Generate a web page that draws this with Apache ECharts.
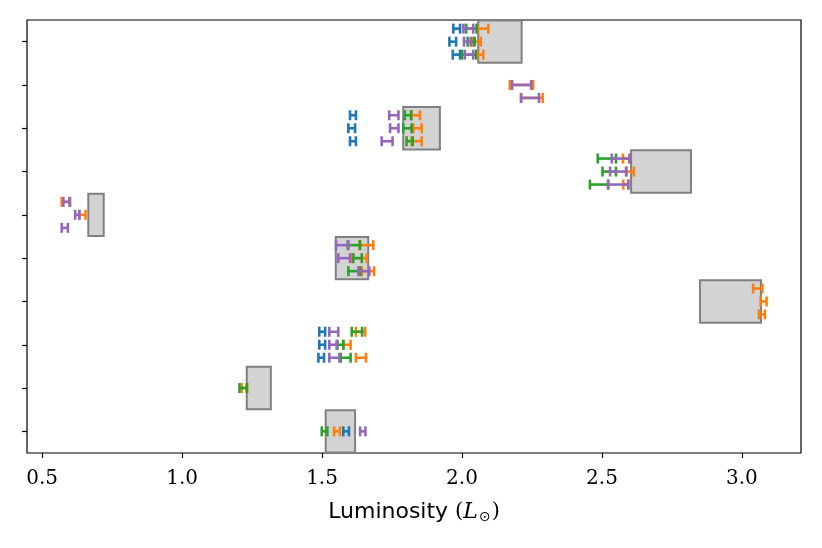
<!DOCTYPE html>
<html>
<head>
<meta charset="utf-8">
<script src="https://cdn.jsdelivr.net/npm/echarts@6/dist/echarts.min.js"></script>
<style>
  html, body { margin: 0; padding: 0; background: #fff; }
  #chart { width: 822px; height: 548px; }
</style>
</head>
<body>
<div id="chart"></div>
<script>
// x ticks
var xTicks = [0.5, 1.0, 1.5, 2.0, 2.5, 3.0];
// one slot per object, bottom to top
var yTicks = [0, 1, 2, 3, 4, 5, 6, 7, 8, 9];

// grey reference boxes: [slot, low, high]
var boxes = [
  [9, 2.058, 2.213],
  [7, 1.790, 1.921],
  [6, 2.604, 2.818],
  [5, 0.665, 0.720],
  [4, 1.549, 1.665],
  [3, 2.850, 3.068],
  [1, 1.231, 1.317],
  [0, 1.513, 1.618]
];

// error bars: [slot, row (0 top, 1 middle, 2 bottom), low, high]
var blueBars = [
  [9, 0, 1.969, 1.993], [9, 1, 1.955, 1.979], [9, 2, 1.967, 1.993],
  [7, 0, 1.600, 1.621], [7, 1, 1.594, 1.618], [7, 2, 1.600, 1.621],
  [2, 0, 1.490, 1.511], [2, 1, 1.490, 1.511], [2, 2, 1.487, 1.507],
  [0, 1, 1.576, 1.596]
];
var orangeBars = [
  [9, 0, 2.055, 2.094], [9, 1, 2.040, 2.067], [9, 2, 2.055, 2.076],
  [8, 1, 2.171, 2.254], [8, 2, 2.211, 2.288],
  [7, 0, 1.820, 1.850], [7, 1, 1.826, 1.856], [7, 2, 1.820, 1.856],
  [6, 0, 2.575, 2.597], [6, 1, 2.588, 2.614], [6, 2, 2.576, 2.594],
  [5, 0, 0.570, 0.600], [5, 1, 0.633, 0.655],
  [4, 0, 1.633, 1.683], [4, 1, 1.608, 1.660], [4, 2, 1.642, 1.686],
  [3, 0, 3.040, 3.073], [3, 1, 3.067, 3.088], [3, 2, 3.061, 3.082],
  [2, 0, 1.621, 1.654], [2, 1, 1.576, 1.602], [2, 2, 1.621, 1.657],
  [1, 1, 1.213, 1.233],
  [0, 1, 1.543, 1.564]
];
var greenBars = [
  [9, 0, 2.015, 2.052], [9, 1, 2.020, 2.045], [9, 2, 2.000, 2.050],
  [7, 0, 1.796, 1.818], [7, 1, 1.790, 1.820], [7, 2, 1.802, 1.824],
  [6, 0, 2.485, 2.550], [6, 1, 2.502, 2.550], [6, 2, 2.457, 2.522],
  [4, 0, 1.592, 1.636], [4, 1, 1.612, 1.642], [4, 2, 1.594, 1.636],
  [2, 0, 1.606, 1.643], [2, 1, 1.555, 1.576], [2, 2, 1.567, 1.602],
  [1, 1, 1.205, 1.231],
  [0, 1, 1.499, 1.519]
];
var purpleBars = [
  [9, 0, 2.005, 2.040], [9, 1, 2.007, 2.031], [9, 2, 2.010, 2.040],
  [8, 1, 2.179, 2.247], [8, 2, 2.211, 2.275],
  [7, 0, 1.740, 1.773], [7, 1, 1.743, 1.773], [7, 2, 1.713, 1.752],
  [6, 0, 2.535, 2.600], [6, 1, 2.529, 2.586], [6, 2, 2.522, 2.594],
  [5, 0, 0.576, 0.598], [5, 1, 0.618, 0.633], [5, 2, 0.570, 0.592],
  [4, 0, 1.550, 1.594], [4, 1, 1.558, 1.600], [4, 2, 1.630, 1.669],
  [2, 0, 1.526, 1.558], [2, 1, 1.526, 1.552], [2, 2, 1.526, 1.562],
  [0, 1, 1.636, 1.655]
];

var ROW_STEP = 0.3;   // vertical spacing of rows inside a slot
var BOX_HALF = 0.49;
var CAP = 5;          // half cap height, px

var chart = echarts.init(document.getElementById('chart'));

function boxItem(params, api) {
  var s = api.value(0);
  var a = api.coord([api.value(1), s + BOX_HALF]);
  var b = api.coord([api.value(2), s - BOX_HALF]);
  return {
    type: 'rect',
    shape: { x: a[0], y: a[1], width: b[0] - a[0], height: b[1] - a[1] },
    style: { fill: '#d3d3d3', stroke: '#808080', lineWidth: 2 }
  };
}

function makeBars(name, color, data) {
  return {
    name: name,
    type: 'custom',
    data: data,
    encode: { x: [2, 3], y: 0 },
    renderItem: function (params, api) {
      var y = api.value(0) + (1 - api.value(1)) * ROW_STEP;
      var p0 = api.coord([api.value(2), y]);
      var p1 = api.coord([api.value(3), y]);
      var st = { stroke: color, lineWidth: 2.6 };
      return {
        type: 'group',
        children: [
          { type: 'line', shape: { x1: p0[0], y1: p0[1], x2: p1[0], y2: p1[1] }, style: st },
          { type: 'line', shape: { x1: p0[0], y1: p0[1] - CAP, x2: p0[0], y2: p0[1] + CAP }, style: st },
          { type: 'line', shape: { x1: p1[0], y1: p1[1] - CAP, x2: p1[0], y2: p1[1] + CAP }, style: st }
        ]
      };
    }
  };
}

var option = {
  animation: false,
  grid: {
    left: 27, right: 21, top: 20, bottom: 95,
    show: true, borderColor: '#000', borderWidth: 1.2, backgroundColor: 'transparent'
  },
  xAxis: {
    type: 'value',
    min: 0.446,
    max: 3.211,
    axisLine: { show: false, onZero: false },
    splitLine: { show: false },
    axisTick: { show: true, length: 5, customValues: xTicks, lineStyle: { color: '#000', width: 1.2 } },
    axisLabel: {
      customValues: xTicks,
      margin: 16,
      color: '#000',
      fontFamily: 'DejaVu Serif',
      fontSize: 20,
      formatter: function (v) { return v.toFixed(1); }
    },
    name: '{a|Luminosity }{b|(}{c|L}{d|⊙}{b|)}',
    nameLocation: 'middle',
    nameGap: 44,
    nameTextStyle: {
      rich: {
        a: { fontFamily: 'DejaVu Sans', fontSize: 22, color: '#000', lineHeight: 30 },
        b: { fontFamily: 'DejaVu Serif', fontSize: 21, color: '#000', lineHeight: 30 },
        c: { fontFamily: 'DejaVu Serif', fontStyle: 'italic', fontSize: 22, color: '#000', lineHeight: 30 },
        d: { fontFamily: 'DejaVu Sans', fontSize: 14, color: '#000', lineHeight: 30, padding: [10, 1, 0, 1] }
      }
    }
  },
  yAxis: {
    type: 'value',
    min: -0.5,
    max: 9.5,
    axisLine: { show: false, onZero: false },
    splitLine: { show: false },
    axisTick: { show: true, length: 5, customValues: yTicks, lineStyle: { color: '#000', width: 1.2 } },
    axisLabel: { show: false }
  },
  series: [
    { name: 'box', type: 'custom', data: boxes, encode: { x: [1, 2], y: 0 }, renderItem: boxItem },
    makeBars('C0', '#1f77b4', blueBars),
    makeBars('C1', '#ff7f0e', orangeBars),
    makeBars('C2', '#2ca02c', greenBars),
    makeBars('C4', '#9467bd', purpleBars)
  ]
};

chart.setOption(option);
</script>
</body>
</html>
